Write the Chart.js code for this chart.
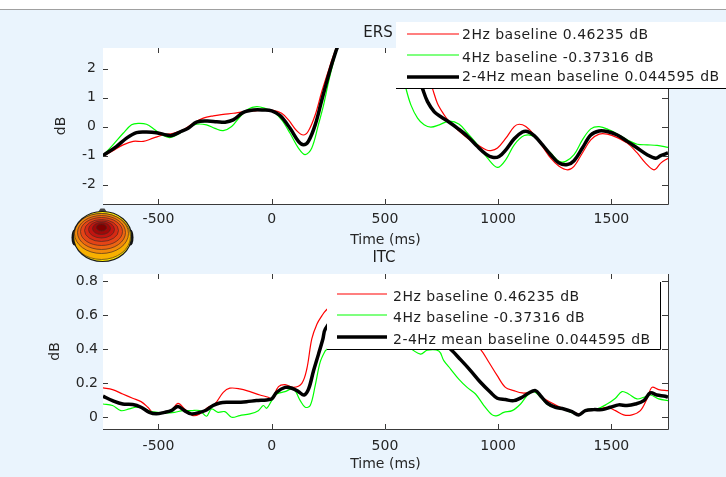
<!DOCTYPE html>
<html>
<head>
<meta charset="utf-8">
<title>ERS / ITC</title>
<script src="https://cdn.jsdelivr.net/npm/chart.js@4.4.1/dist/chart.umd.min.js"></script>
<style>
  html, body { margin: 0; padding: 0; background: #ffffff; }
  #figure { position: relative; width: 726px; height: 477px; overflow: hidden; background: #ffffff; }
  #panel { position: absolute; left: 0; top: 9px; width: 726px; height: 468px; background: #eaf4fd; border-top: 1px solid #a0a0a0; }
  canvas { position: absolute; left: 0; }
  #ersChart { top: 0; }
  #itcChart { top: 248px; }
</style>
</head>
<body>
<div id="figure">
  <div id="panel"></div>
  <canvas id="ersChart" width="726" height="266"></canvas>
  <canvas id="itcChart" width="726" height="229"></canvas>
</div>
<script>
// axis ticks and legend text
const timeTicks = [-500, 0, 500, 1000, 1500]
const ersTicks = [-2, -1, 0, 1, 2]
const itcTicks = [0, 0.2, 0.4, 0.6, 0.8]
const legendLabels = ["2Hz baseline 0.46235 dB", "4Hz baseline -0.37316 dB", "2-4Hz mean baseline 0.044595 dB"]

// ERS (dB)
const ersTime2Hz = [-745, -701, -656, -612, -567, -524, -479, -435, -391, -347, -302, -258, -214, -170, -125, -81, -37, 7, 44, 74, 111, 140, 162, 192, 221, 251, 273, 300, 400, 500, 600, 680, 710, 732, 762, 784, 821, 865, 909, 946, 968, 997, 1034, 1071, 1093, 1122, 1159, 1196, 1232, 1269, 1306, 1335, 1372, 1409, 1446, 1482, 1526, 1570, 1614, 1651, 1688, 1718, 1750]
const ers2Hz = [-1.03, -0.83, -0.63, -0.51, -0.51, -0.40, -0.29, -0.23, -0.11, 0.11, 0.29, 0.37, 0.42, 0.46, 0.51, 0.54, 0.57, 0.56, 0.46, 0.23, -0.15, -0.29, -0.15, 0.40, 1.20, 1.94, 2.46, 2.95, 4.2, 4.6, 3.5, 2.0, 1.31, 0.80, 0.40, 0.17, -0.11, -0.40, -0.63, -0.80, -0.83, -0.74, -0.40, 0.00, 0.08, 0.00, -0.29, -0.69, -1.09, -1.37, -1.49, -1.37, -0.91, -0.46, -0.26, -0.26, -0.38, -0.57, -0.91, -1.26, -1.49, -1.26, -1.09]

const ersTime4Hz = [-745, -701, -656, -619, -590, -553, -516, -479, -450, -413, -376, -332, -288, -251, -214, -177, -140, -103, -66, -29, 7, 44, 81, 118, 148, 177, 206, 229, 251, 273, 300, 400, 480, 550, 570, 593, 615, 644, 673, 703, 740, 784, 828, 865, 909, 953, 997, 1034, 1071, 1115, 1159, 1196, 1232, 1269, 1298, 1335, 1372, 1409, 1446, 1490, 1534, 1578, 1614, 1658, 1702, 1750]
const ers4Hz = [-1.00, -0.63, -0.23, 0.06, 0.11, 0.08, -0.11, -0.31, -0.38, -0.26, -0.08, 0.08, 0.06, -0.06, -0.14, 0.00, 0.34, 0.61, 0.69, 0.63, 0.51, 0.23, -0.23, -0.74, -0.97, -0.74, 0.06, 0.74, 1.54, 2.23, 2.9, 3.8, 3.6, 2.8, 2.1, 1.31, 0.74, 0.29, 0.06, -0.02, 0.06, 0.19, 0.08, -0.23, -0.63, -1.09, -1.41, -1.14, -0.63, -0.31, -0.34, -0.63, -0.91, -1.20, -1.20, -0.97, -0.46, -0.08, 0.00, -0.11, -0.29, -0.49, -0.61, -0.63, -0.65, -0.72]

const ersTimeMean = [-745, -686, -641, -597, -553, -509, -465, -442, -406, -369, -332, -288, -243, -206, -170, -125, -81, -37, 0, 37, 81, 118, 140, 162, 192, 221, 251, 273, 300, 400, 500, 600, 640, 666, 688, 718, 747, 784, 821, 865, 909, 946, 975, 1004, 1034, 1071, 1107, 1129, 1159, 1196, 1232, 1269, 1306, 1335, 1372, 1409, 1446, 1482, 1526, 1570, 1614, 1658, 1696, 1718, 1750]
const ersMean = [-1.00, -0.69, -0.40, -0.21, -0.19, -0.21, -0.29, -0.31, -0.19, -0.06, 0.15, 0.19, 0.17, 0.15, 0.23, 0.49, 0.57, 0.57, 0.54, 0.38, -0.06, -0.51, -0.63, -0.51, 0.06, 0.91, 1.77, 2.34, 2.9, 4.0, 4.2, 2.8, 1.9, 1.31, 0.86, 0.51, 0.34, 0.15, -0.06, -0.34, -0.69, -0.95, -1.06, -1.03, -0.80, -0.42, -0.19, -0.17, -0.31, -0.63, -0.97, -1.26, -1.31, -1.18, -0.74, -0.29, -0.15, -0.17, -0.29, -0.51, -0.74, -0.97, -1.09, -1.00, -0.91]

// ITC
const itcTime2Hz = [-745, -703, -658, -614, -577, -547, -518, -481, -444, -414, -385, -348, -318, -281, -251, -214, -185, -141, -96, -52, -15, 0, 30, 59, 96, 133, 155, 177, 200, 222, 238, 300, 400, 500, 600, 700, 800, 870, 922, 959, 996, 1032, 1069, 1106, 1143, 1165, 1187, 1231, 1275, 1319, 1356, 1393, 1437, 1481, 1518, 1554, 1591, 1628, 1657, 1679, 1709, 1750]
const itc2Hz = [0.173, 0.163, 0.137, 0.112, 0.092, 0.059, 0.020, 0.025, 0.039, 0.082, 0.049, 0.010, 0.020, 0.059, 0.078, 0.147, 0.171, 0.167, 0.151, 0.131, 0.118, 0.108, 0.180, 0.192, 0.176, 0.200, 0.284, 0.461, 0.549, 0.598, 0.627, 0.70, 0.78, 0.75, 0.70, 0.62, 0.53, 0.46, 0.40, 0.324, 0.245, 0.176, 0.157, 0.143, 0.147, 0.157, 0.124, 0.088, 0.059, 0.039, 0.020, 0.039, 0.045, 0.059, 0.039, 0.014, 0.014, 0.039, 0.108, 0.176, 0.163, 0.157]

const itcTime4Hz = [-745, -703, -666, -629, -599, -562, -532, -503, -466, -429, -392, -355, -318, -288, -266, -237, -207, -177, -141, -96, -59, -37, -22, 0, 22, 59, 96, 126, 148, 170, 192, 214, 237, 244, 300, 400, 500, 600, 657, 687, 738, 760, 790, 826, 863, 900, 937, 974, 996, 1025, 1062, 1099, 1128, 1157, 1187, 1224, 1260, 1304, 1356, 1393, 1437, 1481, 1518, 1547, 1576, 1613, 1643, 1672, 1709, 1750]
const itc4Hz = [0.078, 0.069, 0.039, 0.049, 0.059, 0.049, 0.033, 0.029, 0.025, 0.029, 0.039, 0.039, 0.039, 0.006, 0.049, 0.029, 0.033, 0.000, 0.010, 0.020, 0.039, 0.069, 0.053, 0.098, 0.137, 0.151, 0.167, 0.098, 0.059, 0.069, 0.186, 0.324, 0.392, 0.40, 0.52, 0.60, 0.55, 0.42, 0.372, 0.395, 0.39, 0.333, 0.284, 0.225, 0.176, 0.137, 0.069, 0.014, 0.010, 0.029, 0.039, 0.078, 0.127, 0.151, 0.118, 0.069, 0.059, 0.039, 0.014, 0.045, 0.049, 0.078, 0.112, 0.151, 0.137, 0.108, 0.118, 0.131, 0.108, 0.098]

const itcTimeMean = [-745, -703, -658, -614, -577, -540, -510, -473, -444, -414, -385, -355, -318, -288, -259, -229, -192, -155, -111, -67, -22, 0, 22, 59, 89, 118, 143, 163, 185, 207, 226, 237, 300, 400, 500, 600, 700, 790, 834, 878, 922, 966, 996, 1032, 1069, 1106, 1135, 1165, 1187, 1216, 1253, 1290, 1326, 1356, 1385, 1422, 1459, 1496, 1532, 1569, 1606, 1643, 1672, 1701, 1738, 1750]
const itcMean = [0.124, 0.098, 0.078, 0.075, 0.059, 0.029, 0.020, 0.029, 0.039, 0.063, 0.039, 0.020, 0.029, 0.043, 0.069, 0.084, 0.088, 0.088, 0.092, 0.098, 0.102, 0.108, 0.147, 0.176, 0.171, 0.151, 0.131, 0.167, 0.275, 0.373, 0.461, 0.520, 0.62, 0.70, 0.68, 0.60, 0.50, 0.40, 0.339, 0.275, 0.206, 0.147, 0.112, 0.104, 0.098, 0.118, 0.143, 0.157, 0.127, 0.084, 0.059, 0.049, 0.033, 0.014, 0.039, 0.045, 0.045, 0.059, 0.073, 0.069, 0.078, 0.098, 0.143, 0.131, 0.124, 0.118]

// line styles: 2Hz, 4Hz, mean
const lineStyles = [
  { color: "#ff0000", width: 1.2 },
  { color: "#00ff00", width: 1.2 },
  { color: "#000000", width: 3.5 },
]

Chart.defaults.font.family = "'DejaVu Sans', sans-serif"
Chart.defaults.font.size = 14
Chart.defaults.color = "#262626"

document.addEventListener("DOMContentLoaded", () => {
  initErsChart()
  initItcChart()
})

// one line dataset from a time array and a value array
function series(idx, times, values) {
  return {
    label: legendLabels[idx],
    data: times.map((t, i) => ({ x: t, y: values[i] })),
    borderColor: lineStyles[idx].color,
    borderWidth: lineStyles[idx].width,
    pointRadius: 0,
    tension: 0.35,
    fill: false,
    clip: 0,
    order: 2 - idx,
  }
}

function xScale(tickPad, titlePad, height) {
  return {
    type: "linear",
    min: -745,
    max: 1750,
    grid: { display: false, drawTicks: false },
    border: { display: false },
    afterBuildTicks: (s) => { s.ticks = timeTicks.map((v) => ({ value: v })) },
    afterFit: (s) => { s.height = height },
    ticks: { padding: tickPad, maxRotation: 0, autoSkip: false, callback: (v) => String(v) },
    title: { display: true, text: "Time (ms)", padding: { top: 0, bottom: titlePad } },
  }
}

function yScale(min, max, ticks, tickPad, titlePad) {
  return {
    type: "linear",
    min: min,
    max: max,
    grid: { display: false, drawTicks: false },
    border: { display: false },
    afterBuildTicks: (s) => { s.ticks = ticks.map((v) => ({ value: v })) },
    afterFit: (s) => { s.width = 103 },
    ticks: { padding: tickPad, autoSkip: false, callback: (v) => String(v) },
    title: { display: true, text: "dB", padding: { top: titlePad, bottom: 0 } },
  }
}

// matlab-like axes box, inner ticks, legend and title
const matlabAxes = {
  id: "matlabAxes",
  beforeDatasetsDraw(chart) {
    const { ctx, chartArea: a } = chart
    ctx.save()
    ctx.fillStyle = "#ffffff"
    ctx.fillRect(a.left, a.top, a.right - a.left, a.bottom - a.top)
    ctx.restore()
  },
  afterDatasetsDraw(chart, args, opts) {
    drawFrame(chart)
    drawLegend(chart.ctx, opts.legend)
    drawTitle(chart.ctx, opts.title)
    if (opts.head) drawHead(chart.ctx, opts.head)
  },
}

function drawFrame(chart) {
  const { ctx, chartArea: a, scales } = chart
  ctx.save()
  ctx.strokeStyle = "#3a3a3a"
  ctx.lineWidth = 1
  ctx.beginPath()
  ctx.moveTo(a.left, a.bottom + 0.5)
  ctx.lineTo(a.right + 0.5, a.bottom + 0.5)
  ctx.lineTo(a.right + 0.5, a.top)
  scales.x.ticks.forEach((t) => {
    const x = Math.round(scales.x.getPixelForValue(t.value)) + 0.5
    ctx.moveTo(x, a.top)
    ctx.lineTo(x, a.top + 5)
    ctx.moveTo(x, a.bottom)
    ctx.lineTo(x, a.bottom - 5)
  })
  scales.y.ticks.forEach((t) => {
    const y = Math.round(scales.y.getPixelForValue(t.value)) + 0.5
    ctx.moveTo(a.left, y)
    ctx.lineTo(a.left + 5, y)
    ctx.moveTo(a.right, y)
    ctx.lineTo(a.right - 6, y)
  })
  ctx.stroke()
  ctx.restore()
}

function drawLegend(ctx, L) {
  ctx.save()
  ctx.fillStyle = "#ffffff"
  ctx.fillRect(L.left, L.top, L.right - L.left, L.bottom - L.top)
  ctx.strokeStyle = "#000000"
  ctx.lineWidth = 1
  ctx.beginPath()
  ctx.moveTo(L.left, L.bottom + 0.5)
  ctx.lineTo(L.right + 0.5, L.bottom + 0.5)
  if (L.rightEdge) ctx.lineTo(L.right + 0.5, L.top)
  ctx.stroke()

  ctx.font = "14px 'DejaVu Sans'"
  ctx.letterSpacing = "0.5px"
  ctx.textBaseline = "middle"
  ctx.textAlign = "left"
  legendLabels.forEach((label, i) => {
    ctx.beginPath()
    ctx.strokeStyle = lineStyles[i].color
    ctx.lineWidth = lineStyles[i].width
    ctx.moveTo(L.lineFrom, L.lineY[i])
    ctx.lineTo(L.lineTo, L.lineY[i])
    ctx.stroke()
    ctx.fillStyle = "#1e1e1e"
    ctx.fillText(label, L.textX, L.textY[i])
  })
  ctx.restore()
}

function drawTitle(ctx, T) {
  ctx.save()
  ctx.font = "15px 'DejaVu Sans'"
  ctx.fillStyle = "#1e1e1e"
  ctx.textAlign = "center"
  ctx.textBaseline = "middle"
  ctx.fillText(T.text, T.x, T.y)
  ctx.restore()
}

// small scalp map next to the ERS axes
function drawHead(ctx, h) {
  const { cx, cy, rx, ry } = h
  const bands = [
    [-1, 0, 29, 23, "#f8b000"],
    [-1, -3, 27, 20, "#f28a0a"],
    [-1, -4, 24, 17, "#ec6412"],
    [-1, -5, 21, 14, "#e44416"],
    [-1, -6, 17, 11, "#d62a14"],
    [-1, -7, 13, 8.5, "#c01410"],
    [-1, -8, 9, 6, "#a00808"],
    [-1, -9, 5, 3.5, "#800000"],
  ]
  ctx.save()
  ctx.fillStyle = "#111111"
  ctx.beginPath()
  ctx.ellipse(cx - rx + 1, cy + 1, 3, 8, 0, 0, Math.PI * 2)
  ctx.fill()
  ctx.beginPath()
  ctx.ellipse(cx + rx - 1, cy + 1, 3, 8, 0, 0, Math.PI * 2)
  ctx.fill()
  ctx.fillStyle = "#444444"
  ctx.beginPath()
  ctx.moveTo(cx - 6, cy - ry + 3)
  ctx.lineTo(cx - 2, cy - ry - 3)
  ctx.lineTo(cx + 2, cy - ry - 3)
  ctx.lineTo(cx + 6, cy - ry + 3)
  ctx.closePath()
  ctx.fill()

  ctx.save()
  ctx.beginPath()
  ctx.ellipse(cx, cy, rx, ry, 0, 0, Math.PI * 2)
  ctx.fillStyle = "#ffe800"
  ctx.fill()
  ctx.clip()
  bands.forEach(([dx, dy, erx, ery, color]) => {
    ctx.beginPath()
    ctx.ellipse(cx + dx, cy + dy, erx, ery, 0, 0, Math.PI * 2)
    ctx.fillStyle = color
    ctx.fill()
    ctx.strokeStyle = "rgba(70, 45, 35, 0.85)"
    ctx.lineWidth = 0.8
    ctx.stroke()
  })
  ctx.restore()

  ctx.beginPath()
  ctx.ellipse(cx, cy, rx, ry, 0, 0, Math.PI * 2)
  ctx.strokeStyle = "#1a1a1a"
  ctx.lineWidth = 1.2
  ctx.stroke()
  ctx.restore()
}

function baseOptions(padding, x, y, plugin) {
  return {
    responsive: false,
    animation: false,
    devicePixelRatio: 1,
    layout: { padding: padding },
    plugins: {
      legend: { display: false },
      tooltip: { enabled: false },
      matlabAxes: plugin,
    },
    scales: { x: x, y: y },
  }
}

// ERS panel
function initErsChart() {
  const ctx = document.getElementById("ersChart").getContext("2d")
  new Chart(ctx, {
    type: "line",
    data: {
      datasets: [
        series(2, ersTimeMean, ersMean),
        series(1, ersTime4Hz, ers4Hz),
        series(0, ersTime2Hz, ers2Hz),
      ],
    },
    options: baseOptions(
      { top: 48, right: 58, left: 0, bottom: 0 },
      xScale(7, 17, 62),
      yScale(-2.67, 2.71, ersTicks, 7, 53),
      {
        legend: { left: 396, top: 22, right: 740, bottom: 88, rightEdge: false, lineFrom: 407, lineTo: 459, textX: 462, lineY: [34, 55, 77], textY: [35, 58, 77] },
        title: { text: "ERS", x: 378, y: 33 },
        head: { cx: 102.5, cy: 236.5, rx: 29, ry: 25 },
      }
    ),
    plugins: [matlabAxes],
  })
}

// ITC panel
function initItcChart() {
  const ctx = document.getElementById("itcChart").getContext("2d")
  new Chart(ctx, {
    type: "line",
    data: {
      datasets: [
        series(2, itcTimeMean, itcMean),
        series(1, itcTime4Hz, itc4Hz),
        series(0, itcTime2Hz, itc2Hz),
      ],
    },
    options: baseOptions(
      { top: 26, right: 58, left: 0, bottom: 0 },
      xScale(9, 4, 48),
      yScale(-0.069, 0.843, itcTicks, 5, 47),
      {
        legend: { left: 327, top: 34, right: 660, bottom: 101, rightEdge: true, lineFrom: 337, lineTo: 387, textX: 393, lineY: [46, 67, 89], textY: [49, 70.7, 92.3] },
        title: { text: "ITC", x: 384, y: 10 },
        head: null,
      }
    ),
    plugins: [matlabAxes],
  })
}
</script>
</body>
</html>
